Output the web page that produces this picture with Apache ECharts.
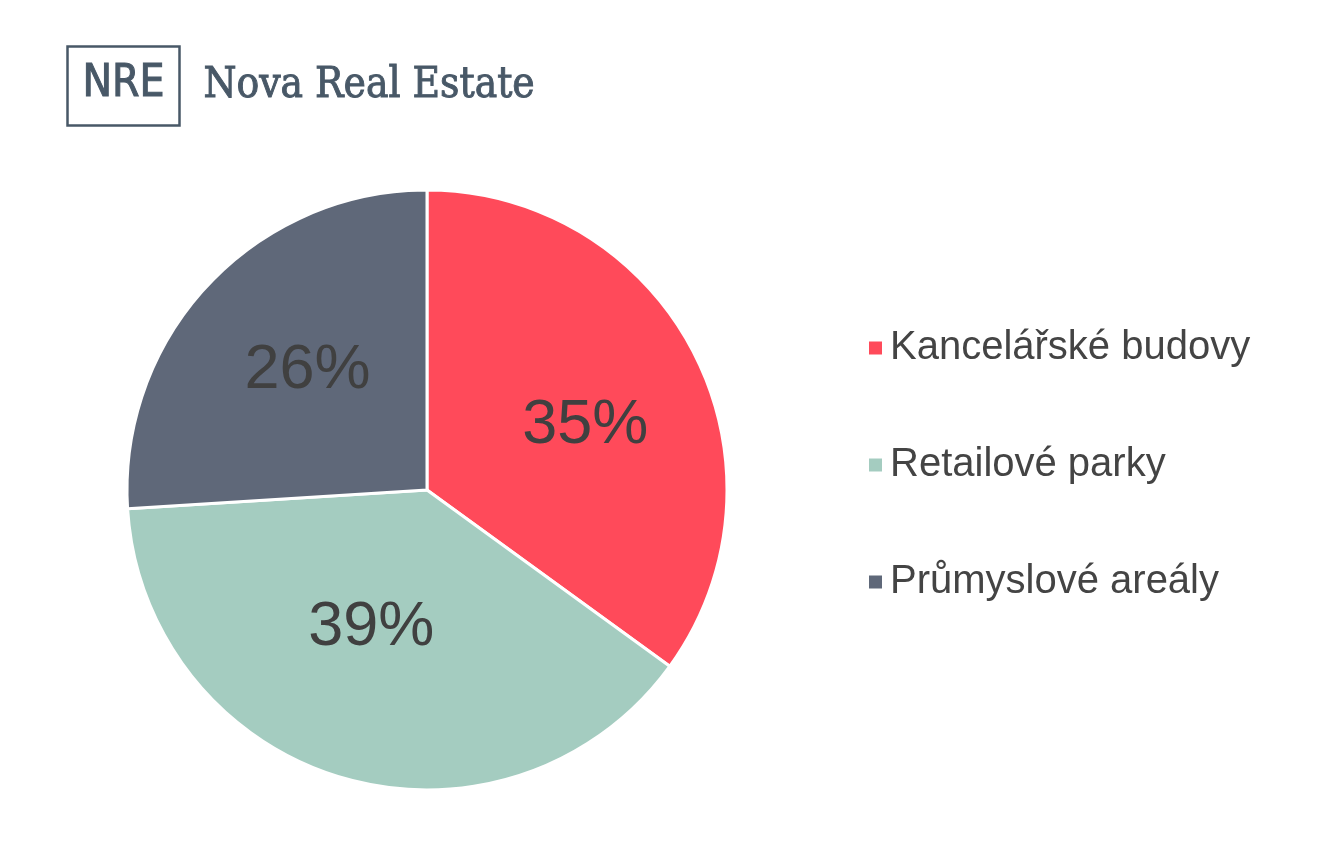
<!DOCTYPE html>
<html>
<head>
<meta charset="utf-8">
<script src="https://cdn.jsdelivr.net/npm/echarts@6/dist/echarts.min.js"></script>
<style>html,body{margin:0;padding:0;background:#fff}#c{width:1320px;height:857px}</style>
</head>
<body>
<div id="c"></div>
<script>
const categories = ['Kancelářské budovy', 'Retailové parky', 'Průmyslové areály'];
const values = [35, 39, 26];
const colors = ['#FF4A5A', '#A4CCC0', '#5F6879'];
const labelShift = [[22, 5], [-13, -9], [-8, -15]];

const chart = echarts.init(document.getElementById('c'));
chart.setOption({
  backgroundColor: '#ffffff',
  animation: false,
  graphic: [
    { type: 'rect', left: 65, top: 44, shape: { width: 112, height: 79 },
      style: { fill: 'none', stroke: '#485867', lineWidth: 2.5 } },
    { type: 'text', left: 82, top: 62, style: { text: 'NRE', fill: '#485867', stroke: '#485867', lineWidth: 1,
      font: '44px "Liberation Sans Narrow", "DejaVu Sans Condensed", sans-serif' } },
    { type: 'text', left: 203, top: 65, style: { text: 'Nova Real Estate', fill: '#485867', stroke: '#485867', lineWidth: 0.9,
      font: '42px "DejaVu Serif Condensed", "DejaVu Serif", serif' } }
  ],
  legend: {
    orient: 'vertical',
    left: 862,
    top: 321,
    itemWidth: 15,
    itemHeight: 15,
    itemGap: 73,
    icon: 'rect',
    data: categories,
    textStyle: { fontFamily: '"Liberation Sans", Arial, sans-serif', fontSize: 40, color: '#444444', lineHeight: 44, padding: [0, 0, 0, 2] }
  },
  series: [{
    type: 'pie',
    center: [427, 490],
    radius: 300,
    startAngle: 90,
    clockwise: true,
    avoidLabelOverlap: false,
    itemStyle: { borderColor: '#ffffff', borderWidth: 3 },
    label: {
      show: true,
      position: 'inside',
      formatter: '{c}%',
      fontFamily: '"Liberation Sans", Arial, sans-serif',
      fontSize: 63,
      color: '#404040'
    },
    labelLine: { show: false },
    labelLayout: function (p) { return { dx: labelShift[p.dataIndex][0], dy: labelShift[p.dataIndex][1] }; },
    emphasis: { disabled: true },
    data: categories.map((n, i) => ({ name: n, value: values[i], itemStyle: { color: colors[i] } }))
  }]
});
</script>
</body>
</html>
